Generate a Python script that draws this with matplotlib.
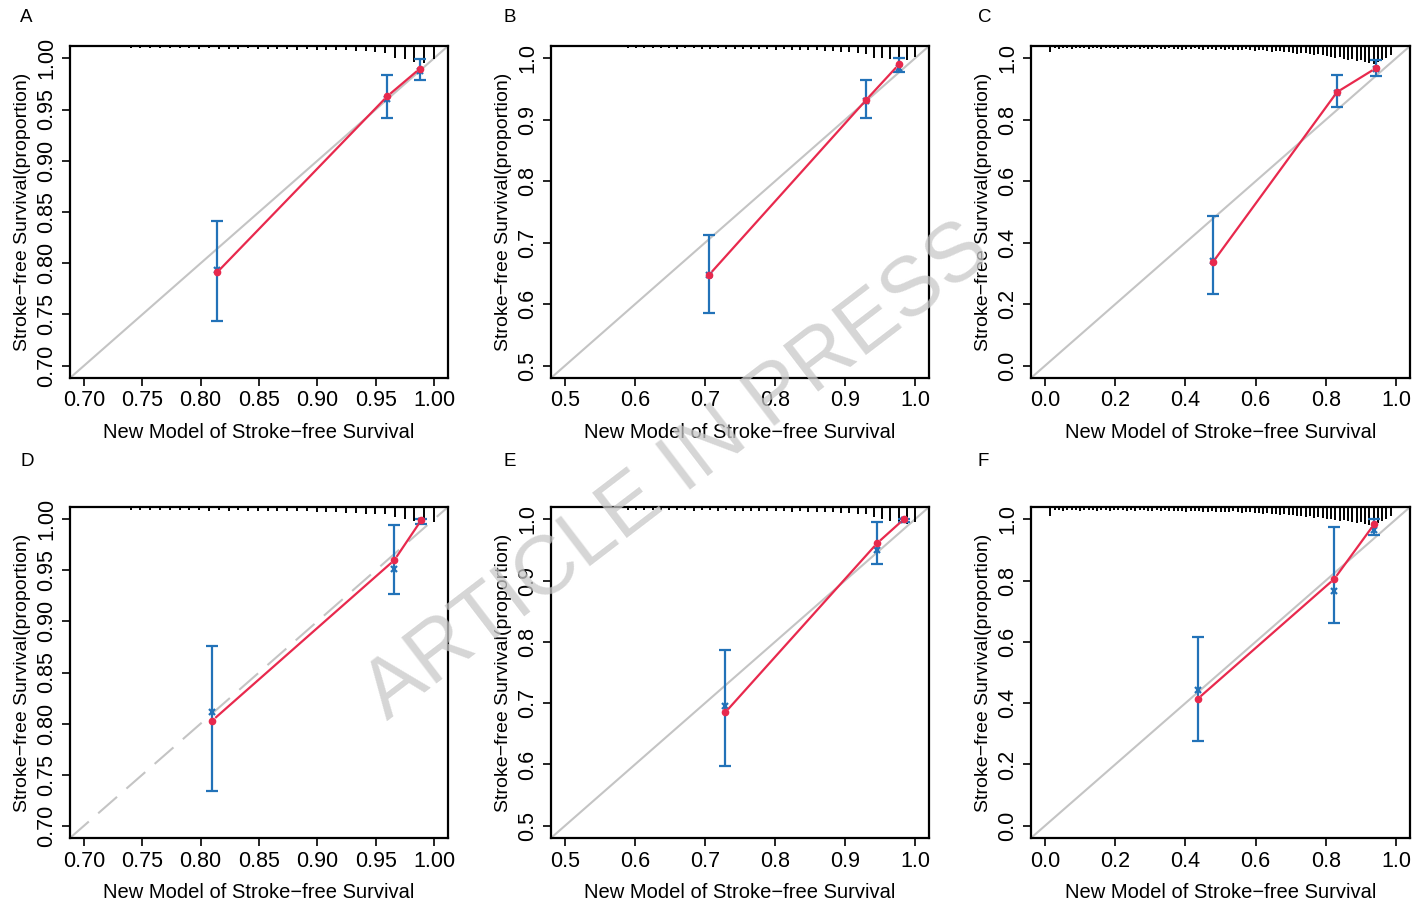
import numpy as np
import matplotlib
matplotlib.use('Agg')
import matplotlib.pyplot as plt
import matplotlib.transforms as mtransforms

plt.rcParams['font.family'] = ['Liberation Sans', 'DejaVu Sans']

# calibration points per panel: predicted, observed (red), corrected (blue x), CI
panels = ['A', 'B', 'C', 'D', 'E', 'F']

pred = {
    'A': [0.814, 0.960, 0.988],
    'B': [0.706, 0.930, 0.977],
    'C': [0.479, 0.832, 0.943],
    'D': [0.810, 0.966, 0.989],
    'E': [0.729, 0.946, 0.984],
    'F': [0.435, 0.824, 0.938],
}
observed = {
    'A': [0.791, 0.963, 0.990],
    'B': [0.648, 0.932, 0.990],
    'C': [0.338, 0.890, 0.968],
    'D': [0.803, 0.960, 0.999],
    'E': [0.685, 0.961, 1.000],
    'F': [0.414, 0.805, 0.984],
}
corrected = {
    'A': [0.793, 0.960, 0.988],
    'B': [0.648, 0.930, 0.985],
    'C': [0.342, 0.886, 0.965],
    'D': [0.811, 0.951, 0.998],
    'E': [0.695, 0.950, 0.999],
    'F': [0.443, 0.766, 0.964],
}
ci_low = {
    'A': [0.744, 0.942, 0.979],
    'B': [0.586, 0.903, 0.977],
    'C': [0.234, 0.841, 0.942],
    'D': [0.734, 0.927, 0.995],
    'E': [0.597, 0.927, 0.996],
    'F': [0.277, 0.661, 0.948],
}
ci_high = {
    'A': [0.841, 0.984, 0.999],
    'B': [0.713, 0.964, 1.000],
    'C': [0.487, 0.945, 0.994],
    'D': [0.876, 0.994, 1.000],
    'E': [0.786, 0.995, 1.000],
    'F': [0.616, 0.974, 1.000],
}

# distribution of predictions shown as spikes on top (heights in pixels)
rug_range = {
    'A': (0.74, 1.0), 'B': (0.59, 1.0), 'C': (0.015, 0.985),
    'D': (0.74, 1.0), 'E': (0.59, 1.0), 'F': (0.015, 0.985),
}
rug_h = {
    'A': [1, 1, 1, 1, 1, 1, 1, 2, 1, 2, 2, 2, 1, 2, 2, 2, 2, 3, 2, 3, 3, 3, 3,
          4, 4, 5, 6, 11, 12, 15, 16, 12],
    'B': [1, 1, 1, 1, 1, 1, 2, 1, 1, 2, 2, 1, 2, 2, 2, 2, 2, 2, 3, 2, 3, 3, 3, 3,
          4, 4, 5, 5, 6, 7, 11, 11, 12, 13, 13, 10],
    'C': [5,
          1, 2, 1, 1, 2, 1, 1, 1, 2, 1, 1, 2, 1, 1, 1, 2, 1, 2, 1, 1, 2, 1, 2,
          2, 1, 2, 2, 1, 2, 2, 3, 2, 2, 1, 2, 3, 2, 2, 3, 2, 3, 2, 3, 3,
          3, 2, 3, 4, 3, 3, 4, 5, 4, 4, 5, 5, 6,
          7, 6, 6, 7, 8, 7, 8, 9,
          10, 11, 10, 12, 13, 12, 14, 13,
          15, 16, 17, 15, 13, 11, 8],
    'D': [1, 1, 1, 1, 1, 1, 1, 1, 2, 1, 2, 1, 2, 2, 2, 2, 2, 2, 2, 3, 3, 3,
          4, 4, 5, 5, 5, 8, 10, 12, 13, 13],
    'E': [1, 1, 1, 1, 1, 1, 1, 1, 2, 1, 1, 2, 1, 2, 2, 2, 2, 2, 2, 2, 3, 2, 3, 3,
          3, 3, 4, 4, 5, 5, 8, 10, 12, 13, 15, 13],
    'F': [7,
          1, 1, 2, 1, 1, 1, 2, 1, 1, 1, 2, 1, 1, 2, 1, 1, 1, 2, 1, 2, 1, 1, 2,
          2, 1, 2, 1, 2, 2, 2, 2, 3, 2, 2, 2, 3, 3, 2, 3, 3, 3, 3, 2, 3,
          4, 3, 3, 4, 4, 5, 4, 5, 5, 6, 5, 6, 6,
          7, 7, 8, 7, 9, 8, 9, 10,
          10, 11, 12, 11, 12, 13, 14, 13,
          15, 16, 15, 14, 12, 10, 7],
}

lims = {'A': (0.688, 1.012), 'B': (0.48, 1.02), 'C': (-0.04, 1.04),
        'D': (0.688, 1.012), 'E': (0.48, 1.02), 'F': (-0.04, 1.04)}
ticks = {'A': [0.70, 0.75, 0.80, 0.85, 0.90, 0.95, 1.00],
         'B': [0.5, 0.6, 0.7, 0.8, 0.9, 1.0],
         'C': [0.0, 0.2, 0.4, 0.6, 0.8, 1.0]}
ticks['D'] = ticks['A']
ticks['E'] = ticks['B']
ticks['F'] = ticks['C']
fmt = {'A': '{:.2f}', 'D': '{:.2f}', 'B': '{:.1f}', 'E': '{:.1f}', 'C': '{:.1f}', 'F': '{:.1f}'}

xlabel = 'New Model of Stroke\u2212free Survival'
ylabel = 'Stroke\u2212free Survival(proportion)'

red = '#e8294d'
blue = '#2272b8'
W, H = 1413, 905

# axes boxes in pixels: left, top, right, bottom
boxes = {'A': (70, 46, 448, 378), 'B': (551, 46, 929, 378), 'C': (1031, 46, 1410, 378),
         'D': (70, 507, 448, 838), 'E': (551, 507, 929, 838), 'F': (1031, 507, 1410, 838)}
letter_pos = {'A': (20, 17), 'B': (504, 17), 'C': (978, 17),
              'D': (20, 462), 'E': (504, 462), 'F': (978, 462)}

fig = plt.figure(figsize=(W / 100, H / 100), dpi=100)


def gapped_line(ax, xs, ys, gap=5):
    # line between points with small gaps around them (like R type="b")
    pts = ax.transData.transform(np.column_stack([xs, ys]))
    inv = ax.transData.inverted()
    for p0, p1 in zip(pts[:-1], pts[1:]):
        d = p1 - p0
        n = np.hypot(*d)
        if n <= 2 * gap:
            continue
        u = d / n
        a = inv.transform(p0 + u * gap)
        b = inv.transform(p1 - u * gap)
        ax.plot([a[0], b[0]], [a[1], b[1]], color=red, lw=1.6, zorder=4)


for p in panels:
    l, t, r, b = boxes[p]
    ax = fig.add_axes([l / W, 1 - b / H, (r - l) / W, (b - t) / H])
    lo, hi = lims[p]
    ax.set_xlim(lo, hi)
    ax.set_ylim(lo, hi)
    ax_h = b - t

    # ideal line
    ls = (0, (12, 6)) if p == 'D' else '-'
    ax.plot([lo, hi], [lo, hi], color='#c4c4c4', lw=1.5, ls=ls, zorder=1)

    # rug spikes from top (extra pixel so short ones clear the frame)
    trans = mtransforms.blended_transform_factory(ax.transData, ax.transAxes)
    xs = np.linspace(rug_range[p][0], rug_range[p][1], len(rug_h[p]))
    for xv, hv in zip(xs, rug_h[p]):
        ax.plot([xv, xv], [1, 1 - (hv + 1.5) / ax_h], color='black', lw=1.4,
                transform=trans, solid_capstyle='butt', zorder=2)

    x = np.array(pred[p])
    yo = np.array(observed[p])
    yc = np.array(corrected[p])
    lo_ci = np.array(ci_low[p])
    hi_ci = np.array(ci_high[p])

    ax.errorbar(x, yc, yerr=[yc - lo_ci, hi_ci - yc], fmt='none', ecolor=blue,
                elinewidth=1.6, capsize=4, capthick=1.6, zorder=3)
    ax.plot(x, yc, 'x', color=blue, ms=5, mew=1.6, zorder=3)
    gapped_line(ax, x, yo)
    ax.plot(x, yo, 'o', color=red, ms=4.5, zorder=5)

    ax.set_xticks(ticks[p])
    ax.set_yticks(ticks[p])
    ax.set_xticklabels([fmt[p].format(v) for v in ticks[p]])
    ax.set_yticklabels([fmt[p].format(v) for v in ticks[p]], rotation=90, va='center')
    ax.tick_params(direction='out', length=6, width=1.2, labelsize=15.5, pad=3)
    for s in ax.spines.values():
        s.set_linewidth(1.6)
    ax.set_xlabel(xlabel, fontsize=14.5, labelpad=8)
    ax.set_ylabel(ylabel, fontsize=14, labelpad=4)

    lx, ly = letter_pos[p]
    fig.text(lx / W, 1 - ly / H, p, fontsize=13.5, ha='left', va='center')

# watermark
fig.text(0.479, 0.478, 'ARTICLE IN PRESS', rotation=37.4, fontsize=60,
         color='#c8c8c8', alpha=0.75, ha='center', va='center', zorder=10)

fig.savefig('out.png', dpi=100)
